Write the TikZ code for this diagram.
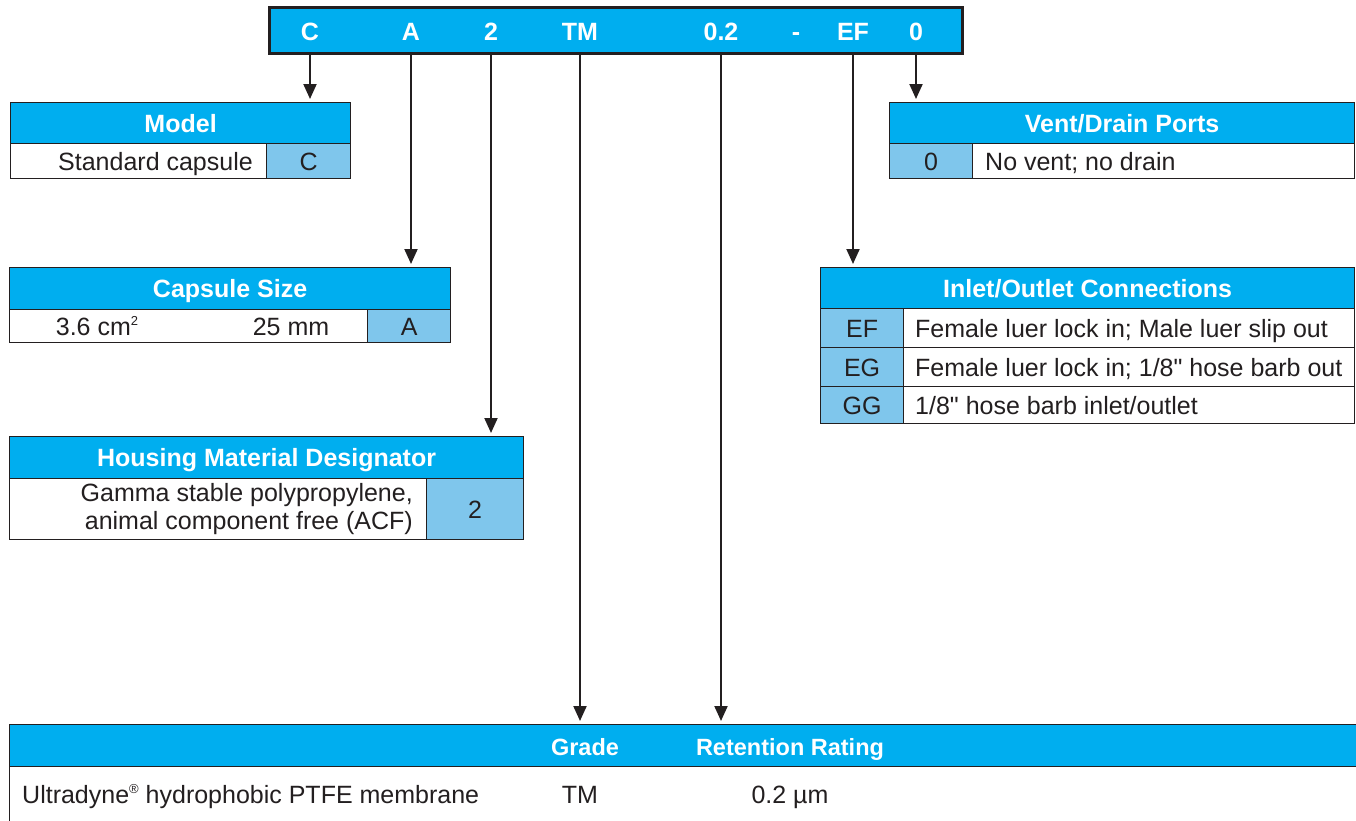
\documentclass[tikz,border=0pt]{standalone}
\usepackage{fontspec}
\setmainfont{Liberation Sans}
\usetikzlibrary{arrows.meta}
\definecolor{cyanbar}{HTML}{00AEEF}
\definecolor{codeblue}{HTML}{7FC6EC}
\definecolor{ink}{HTML}{231F20}
\newcommand{\smallsup}[1]{\raisebox{0.75ex}{\fontsize{13}{13}\selectfont #1}}
\begin{document}
\begin{tikzpicture}[x=1pt,y=-1pt,
  box/.style={draw=ink, line width=1.2pt, inner sep=0pt, anchor=north west},
  hdr/.style={box, fill=cyanbar},
  cell/.style={box, fill=white},
  code/.style={box, fill=codeblue, text=ink, font=\fontsize{25}{28}\selectfont, text height=18pt, text depth=0pt},
  hdrtxt/.style={text=white, font=\fontsize{25}{28}\selectfont\bfseries, inner sep=0pt, text height=18pt, text depth=0pt},
  txt/.style={text=ink, font=\fontsize{25}{28}\selectfont, inner sep=0pt, text height=18pt, text depth=0pt},
  barlbl/.style={text=white, font=\fontsize{25}{28}\selectfont\bfseries, inner sep=0pt, anchor=base},
  arr/.style={draw=ink, line width=2pt, -{Triangle[length=15pt,width=13pt]}, shorten >=3pt}
]
\useasboundingbox (0,0) rectangle (1356,820);
\clip (0,0) rectangle (1356,820);

% top code bar
\node[box, fill=cyanbar, line width=3pt, minimum width=693pt, minimum height=46pt] (bar) at (268,6) {};
\node[barlbl] (lC) at (310,40) {C};
\node[barlbl] (lA) at (411,40) {A};
\node[barlbl] (l2) at (491,40) {2};
\node[barlbl] (lTM) at (580,40) {TM};
\node[barlbl] (l02) at (721,40) {0.2};
\node[barlbl] (ldash) at (796,40) {-};
\node[barlbl] (lEF) at (853,40) {EF};
\node[barlbl] (l0) at (916,40) {0};

% Model
\node[hdr, minimum width=340pt, minimum height=41pt] (mh) at (10,102) {};
\node[hdrtxt] at (mh.center) {Model};
\node[cell, minimum width=256pt, minimum height=35pt] (mr) at (10,143) {};
\node[code, minimum width=84pt, minimum height=35pt] (mc) at (266,143) {C};
\node[txt, anchor=east] at (253,161) {Standard capsule};

% Capsule Size
\node[hdr, minimum width=441pt, minimum height=42pt] (sh) at (9,267) {};
\node[hdrtxt] at (sh.center) {Capsule Size};
\node[cell, minimum width=358pt, minimum height=33pt] (sr) at (9,309) {};
\node[code, minimum width=83pt, minimum height=33pt] (sc) at (367,309) {A};
\node[txt] at (97,326) {3.6 cm\smallsup{2}};
\node[txt] at (291,326) {25 mm};

% Housing Material Designator
\node[hdr, minimum width=514pt, minimum height=42pt] (hh) at (9,436) {};
\node[hdrtxt] at (hh.center) {Housing Material Designator};
\node[cell, minimum width=417pt, minimum height=61pt] (hr) at (9,478) {};
\node[code, minimum width=97pt, minimum height=61pt] (hc) at (426,478) {2};
\node[txt, text height=, text depth=, align=right, anchor=east, font=\fontsize{25}{28}\selectfont] at (413,509) {Gamma stable polypropylene,\\animal component free (ACF)};

% Vent/Drain Ports
\node[hdr, minimum width=465pt, minimum height=41pt] (vh) at (889,102) {};
\node[hdrtxt] at (vh.center) {Vent/Drain Ports};
\node[code, minimum width=83pt, minimum height=35pt] (vc) at (889,143) {0};
\node[cell, minimum width=382pt, minimum height=35pt] (vr) at (972,143) {};
\node[txt, anchor=west] at (985,161) {No vent; no drain};

% Inlet/Outlet Connections
\node[hdr, minimum width=534pt, minimum height=41pt] (ih) at (820,267) {};
\node[hdrtxt] at (ih.center) {Inlet/Outlet Connections};
\node[code, minimum width=83pt, minimum height=39pt] (ic1) at (820,308) {EF};
\node[cell, minimum width=451pt, minimum height=39pt] (ir1) at (903,308) {};
\node[txt, anchor=west] at (915,328) {Female luer lock in; Male luer slip out};
\node[code, minimum width=83pt, minimum height=39pt] (ic2) at (820,347) {EG};
\node[cell, minimum width=451pt, minimum height=39pt] (ir2) at (903,347) {};
\node[txt, anchor=west] at (915,367) {Female luer lock in; 1/8\textquotedbl{} hose barb out};
\node[code, minimum width=83pt, minimum height=37pt] (ic3) at (820,386) {GG};
\node[cell, minimum width=451pt, minimum height=37pt] (ir3) at (903,386) {};
\node[txt, anchor=west] at (915,405) {1/8\textquotedbl{} hose barb inlet/outlet};

% Bottom membrane table
\node[hdr, minimum width=1360pt, minimum height=42pt] (bh) at (9,724) {};
\node[hdrtxt, font=\fontsize{23.5}{28}\selectfont\bfseries] at (585,746) {Grade};
\node[hdrtxt, font=\fontsize{23.5}{28}\selectfont\bfseries] at (790,746) {Retention Rating};
\node[cell, minimum width=1360pt, minimum height=70pt] (br) at (9,766) {};
\node[txt, anchor=west] at (22,794) {Ultradyne\smallsup{®} hydrophobic PTFE membrane};
\node[txt] at (580,794) {TM};
\node[txt] at (790,794) {0.2 µm};

% connectors
\draw[arr] (lC |- bar.south) -- (mh.north -| lC);
\draw[arr] (lA |- bar.south) -- (sh.north -| lA);
\draw[arr] (l2 |- bar.south) -- (hh.north -| l2);
\draw[arr] (lTM |- bar.south) -- (bh.north -| lTM);
\draw[arr] (l02 |- bar.south) -- (bh.north -| l02);
\draw[arr] (lEF |- bar.south) -- (ih.north -| lEF);
\draw[arr] (l0 |- bar.south) -- (vh.north -| l0);
\end{tikzpicture}
\end{document}
